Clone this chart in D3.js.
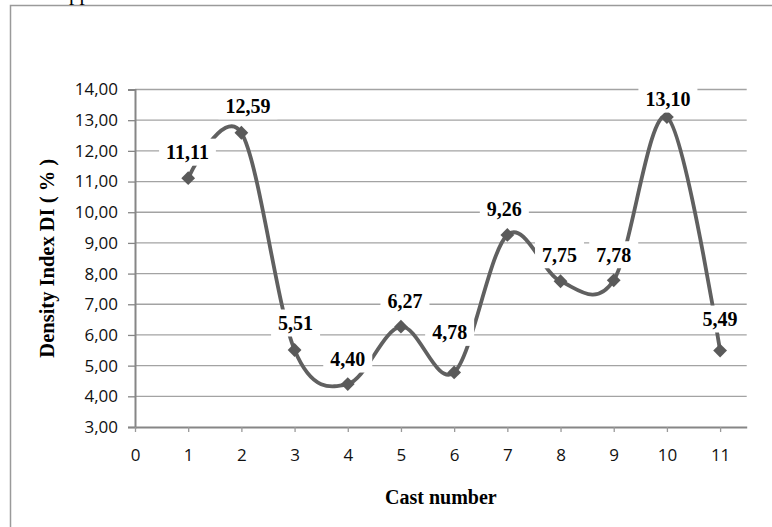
<!DOCTYPE html>
<html>
<head>
<meta charset="utf-8">
<script src="https://cdn.jsdelivr.net/npm/d3@7/dist/d3.min.js"></script>
<style>
  html, body { margin: 0; padding: 0; background: #fff; }
  svg { display: block; }
</style>
</head>
<body>
<svg id="chart" width="772" height="527"></svg>
<script>
// ---- data ----
const castNumbers = [1, 2, 3, 4, 5, 6, 7, 8, 9, 10, 11];
const densityIndex = [11.11, 12.59, 5.51, 4.40, 6.27, 4.78, 9.26, 7.75, 7.78, 13.10, 5.49];
const xTicks = [0, 1, 2, 3, 4, 5, 6, 7, 8, 9, 10, 11];
const yTicks = [3, 4, 5, 6, 7, 8, 9, 10, 11, 12, 13, 14];
const xTitle = "Cast number";
const yTitle = "Density Index DI ( % )";

// ---- layout ----
const svg = d3.select("#chart");
const W = 772, H = 527;
const plot = { left: 135, right: 746.7, top: 89.5, bottom: 427 };
const x = d3.scaleLinear().domain([0, 11.5]).range([plot.left, plot.right]);
const y = d3.scaleLinear().domain([3, 14]).range([plot.bottom, plot.top]);
const fmt = v => d3.format(".2f")(v).replace(".", ",");

// outer frame (cut off at right/bottom)
svg.append("rect")
  .attr("x", 10.5).attr("y", 5.5)
  .attr("width", W + 20).attr("height", H + 20)
  .attr("fill", "none").attr("stroke", "#9a9a9a").attr("stroke-width", 1.5);

// cropped text above the frame (only its descenders show, as in the original)
svg.append("text")
  .attr("x", 69).attr("y", 0)
  .attr("font-family", "Liberation Serif, Times New Roman, serif")
  .attr("font-size", 21).attr("fill", "#000")
  .text("pp");

// gridlines
svg.append("g").selectAll("line")
  .data(yTicks.filter(t => t > 3))
  .join("line")
  .attr("x1", plot.left).attr("x2", plot.right)
  .attr("y1", d => y(d)).attr("y2", d => y(d))
  .attr("stroke", "#a3a3a3").attr("stroke-width", 1.3);

// y axis
const yAxis = svg.append("g")
  .attr("transform", `translate(${plot.left},0)`)
  .call(d3.axisLeft(y).tickValues(yTicks).tickFormat(fmt).tickSize(7).tickPadding(10));
yAxis.select(".domain").attr("stroke", "#868686").attr("stroke-width", 2);
yAxis.selectAll(".tick line").attr("stroke", "#868686").attr("stroke-width", 1.3);
yAxis.selectAll(".tick text")
  .attr("font-family", "Open Sans, sans-serif").attr("font-size", 17).attr("fill", "#111");

// x axis
const xAxis = svg.append("g")
  .attr("transform", `translate(0,${plot.bottom})`)
  .call(d3.axisBottom(x).tickValues(xTicks).tickFormat(d3.format("d")).tickSize(5).tickPadding(17).tickSizeOuter(0));
xAxis.select(".domain").attr("stroke", "#868686").attr("stroke-width", 2);
xAxis.selectAll(".tick line").attr("stroke", "#9a9a9a").attr("stroke-width", 1.3);
xAxis.selectAll(".tick text")
  .attr("font-family", "Open Sans, sans-serif").attr("font-size", 17).attr("fill", "#111");

// axis titles
svg.append("text")
  .attr("transform", `translate(53.5,${(plot.top + plot.bottom) / 2}) rotate(-90)`)
  .attr("text-anchor", "middle")
  .attr("font-family", "Liberation Serif, Times New Roman, serif")
  .attr("font-weight", "bold").attr("font-size", 20.5).attr("fill", "#000")
  .text(yTitle);
svg.append("text")
  .attr("x", (plot.left + plot.right) / 2).attr("y", 503.5)
  .attr("text-anchor", "middle")
  .attr("font-family", "Liberation Serif, Times New Roman, serif")
  .attr("font-weight", "bold").attr("font-size", 20).attr("fill", "#000")
  .text(xTitle);

// series
const pts = castNumbers.map((c, i) => ({ c, v: densityIndex[i] }));
const line = d3.line().x(d => x(d.c)).y(d => y(d.v)).curve(d3.curveCardinal.tension(0));
svg.append("path")
  .datum(pts)
  .attr("d", line)
  .attr("fill", "none").attr("stroke", "#606060").attr("stroke-width", 3.8)
  .attr("stroke-linejoin", "round");

const sym = d3.symbol().type(d3.symbolSquare).size(95);
svg.append("g").selectAll("path")
  .data(pts)
  .join("path")
  .attr("d", sym)
  .attr("transform", d => `translate(${x(d.c)},${y(d.v)}) rotate(45)`)
  .attr("fill", "#5a5a5a");

// data labels (white boxes), nudged like the original
const labelDx = [-0.7, 6.6, 1, 0, 4, -4.5, -3, -1, 0, 1, 0];
const labelDy = [-26, -27, -27, -25, -25, -40, -26, -26.5, -25.6, -18, -31.6];
const lbl = svg.append("g").selectAll("g")
  .data(pts)
  .join("g")
  .attr("transform", (d, i) => `translate(${x(d.c) + labelDx[i]},${y(d.v) + labelDy[i]})`);
lbl.append("text")
  .attr("text-anchor", "middle")
  .attr("y", 6.8)
  .attr("font-family", "Liberation Serif, Times New Roman, serif")
  .attr("font-weight", "bold").attr("font-size", 20).attr("fill", "#000")
  .text(d => fmt(d.v));
lbl.each(function () {
  const g = d3.select(this);
  const bb = g.select("text").node().getBBox();
  g.insert("rect", "text")
    .attr("x", bb.x - 7).attr("y", -13.5)
    .attr("width", bb.width + 14).attr("height", 27)
    .attr("fill", "#fff");
});
</script>
</body>
</html>
